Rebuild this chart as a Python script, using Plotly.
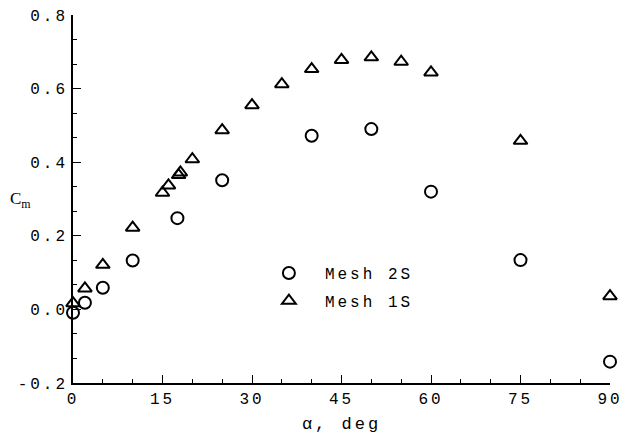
import plotly.graph_objects as go

# Mesh 2S (circles)
alpha_2s = [0, 2, 5, 10, 17.5, 25, 40, 50, 60, 75, 90]
cm_2s = [-0.009, 0.018, 0.059, 0.133, 0.248, 0.351, 0.472, 0.490, 0.320, 0.134, -0.142]

# Mesh 1S (triangles)
alpha_1s = [0, 2, 5, 10, 15, 16, 17.7, 18, 20, 25, 30, 35, 40, 45, 50, 55, 60, 75, 90]
cm_1s = [0.017, 0.057, 0.121, 0.222, 0.317, 0.337, 0.365, 0.372, 0.408, 0.487,
         0.555, 0.612, 0.653, 0.678, 0.685, 0.673, 0.644, 0.458, 0.036]

x_tickvals = [0, 15, 30, 45, 60, 75, 90]
x_ticktext = ["0", "15", "30", "45", "60", "75", "90"]
y_tickvals = [-0.2, 0.0, 0.2, 0.4, 0.6, 0.8]
y_ticktext = ["-0.2", "0.0", "0.2", "0.4", "0.6", "0.8"]

MONO = "Liberation Mono, DejaVu Sans Mono, monospace"
SERIF = "Liberation Serif, DejaVu Serif, serif"

fig = go.Figure()
fig.add_trace(go.Scatter(
    x=alpha_2s, y=cm_2s, mode="markers", name="Mesh 2S", legendgroup="a",
    marker=dict(symbol="circle-open", size=12, color="black", line=dict(width=2)),
    cliponaxis=False,
))
fig.add_trace(go.Scatter(
    x=alpha_1s, y=cm_1s, mode="markers", name="Mesh 1S", legendgroup="b",
    marker=dict(symbol="triangle-up-open", size=12, color="black", line=dict(width=2)),
    cliponaxis=False,
))

fig.update_layout(
    width=633, height=434,
    margin=dict(l=73, r=23, t=15, b=51, autoexpand=False),
    plot_bgcolor="white", paper_bgcolor="white",
    font=dict(family=MONO, size=16, color="black"),
    showlegend=True,
    legend=dict(x=0.335, y=0.345, xanchor="left", yanchor="top",
                bgcolor="rgba(0,0,0,0)", traceorder="grouped", tracegroupgap=4,
                itemwidth=62,
                font=dict(family=MONO, size=16)),
    xaxis=dict(range=[0, 90], tickvals=x_tickvals, ticktext=x_ticktext,
               showline=True, linecolor="black", linewidth=1.5, mirror=False,
               ticks="inside", ticklen=8, tickwidth=1.2, tickcolor="black",
               minor=dict(dtick=5, tick0=0, ticks="inside", ticklen=4, tickwidth=1.2, tickcolor="black"),
               showgrid=False, zeroline=False, automargin=False,
               title=dict(text="α, deg", standoff=12, font=dict(family=MONO, size=17))),
    yaxis=dict(range=[-0.2, 0.8], tickvals=y_tickvals, ticktext=y_ticktext,
               showline=True, linecolor="black", linewidth=1.5, mirror=False,
               ticks="inside", ticklen=8, tickwidth=1.2, tickcolor="black",
               minor=dict(dtick=0.2 / 3, tick0=-0.2, ticks="inside", ticklen=4, tickwidth=1.2, tickcolor="black"),
               showgrid=False, zeroline=False, ticklabelstandoff=0, automargin=False),
    annotations=[dict(text="C<sub>m</sub>", xref="paper", yref="paper",
                      x=-0.097, y=0.497, xanchor="center", yanchor="middle",
                      showarrow=False, font=dict(family=SERIF, size=17))],
)

post = """
document.body.style.margin = '0';
document.body.style.padding = '0';
var gd = document.getElementById('{plot_id}');
function spaceText() {
  gd.querySelectorAll('.xtick text, .ytick text, .legendtext, .g-xtitle text').forEach(function (t) {
    t.style.letterSpacing = '3px';
  });
  gd.querySelectorAll('.legend [clip-path]').forEach(function (e) {
    e.removeAttribute('clip-path');
  });
}
spaceText();
if (gd.on) { gd.on('plotly_afterplot', spaceText); }
"""

fig.write_html("out.html", post_script=post, config={"displayModeBar": False})
